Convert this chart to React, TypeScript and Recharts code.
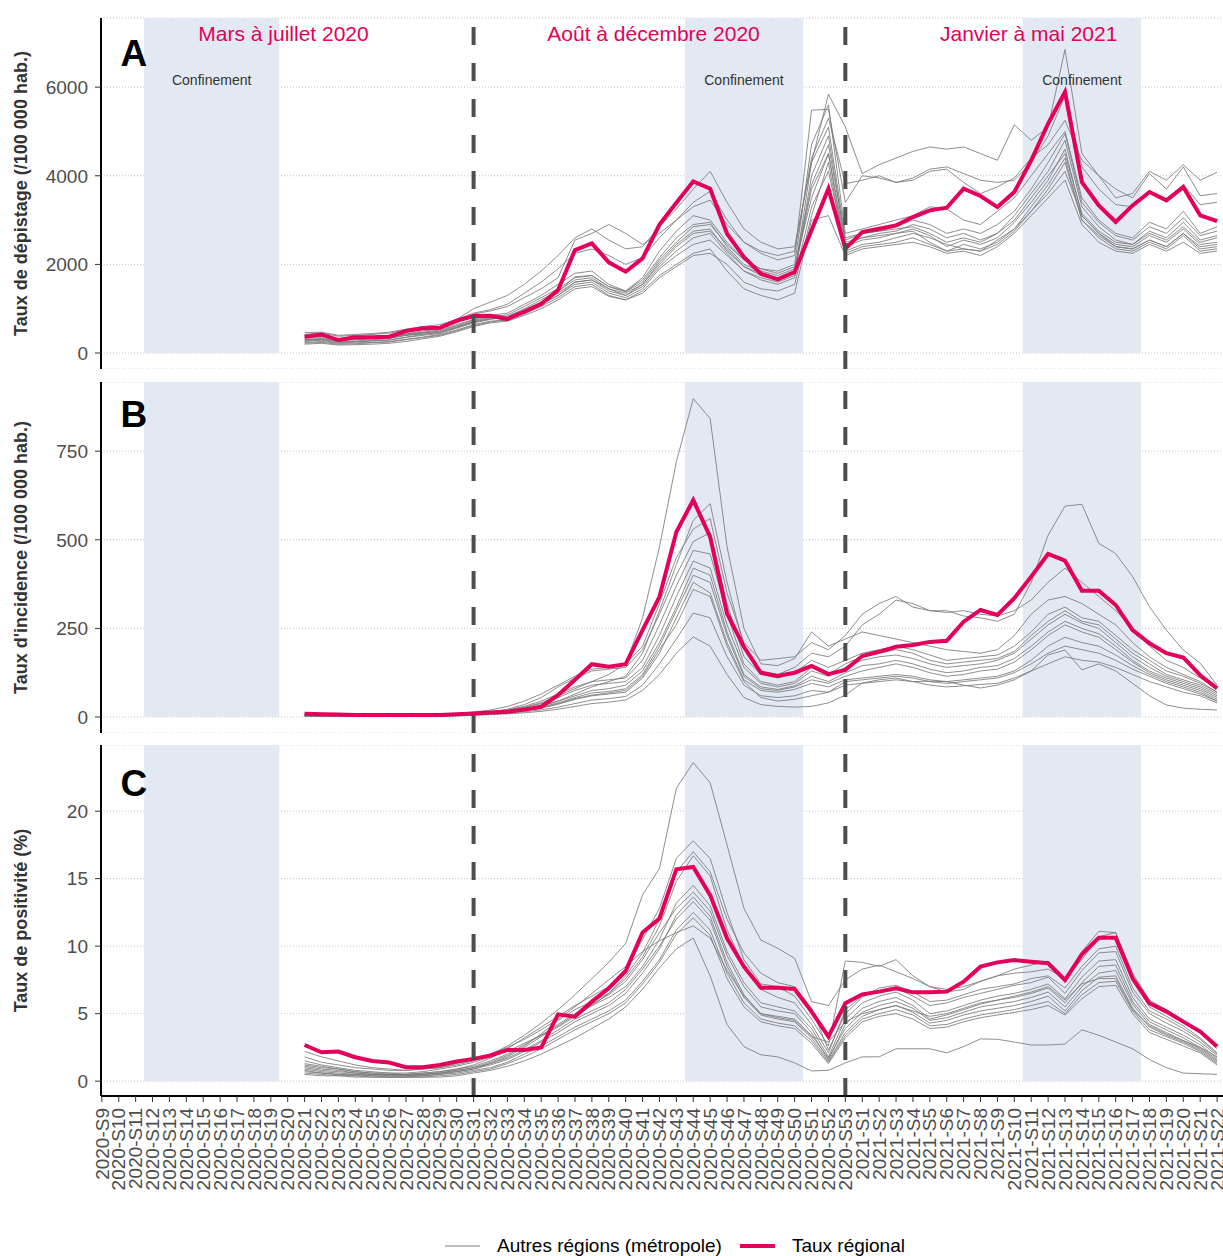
import {
  LineChart,
  Line,
  XAxis,
  YAxis,
  CartesianGrid,
  ReferenceArea,
  ReferenceLine,
  ReferenceDot,
} from "recharts";

const RED = "#e4005a";
const GREY = "#7a7a7a";
const SHADE = "#e3e9f2";
const FONT = "'Liberation Sans', Arial, Helvetica, sans-serif";

// ── Week labels (x axis) ─────────────────────────────────────────────────────
const semaines = [
  "2020-S9", "2020-S10", "2020-S11", "2020-S12", "2020-S13", "2020-S14", "2020-S15", "2020-S16",
  "2020-S17", "2020-S18", "2020-S19", "2020-S20", "2020-S21", "2020-S22", "2020-S23", "2020-S24",
  "2020-S25", "2020-S26", "2020-S27", "2020-S28", "2020-S29", "2020-S30", "2020-S31", "2020-S32",
  "2020-S33", "2020-S34", "2020-S35", "2020-S36", "2020-S37", "2020-S38", "2020-S39", "2020-S40",
  "2020-S41", "2020-S42", "2020-S43", "2020-S44", "2020-S45", "2020-S46", "2020-S47", "2020-S48",
  "2020-S49", "2020-S50", "2020-S51", "2020-S52", "2020-S53",
  "2021-S1", "2021-S2", "2021-S3", "2021-S4", "2021-S5", "2021-S6", "2021-S7", "2021-S8",
  "2021-S9", "2021-S10", "2021-S11", "2021-S12", "2021-S13", "2021-S14", "2021-S15", "2021-S16",
  "2021-S17", "2021-S18", "2021-S19", "2021-S20", "2021-S21", "2021-S22",
];
// data starts at 2020-S21
const premiereSemaine = semaines.indexOf("2020-S21");

// lockdown periods, as [first week, last week]
const confinements = [
  ["2020-S12", "2020-S19"],
  ["2020-S44", "2020-S50"],
  ["2021-S11", "2021-S17"],
];
const coupures = ["2020-S31", "2020-S53"];
const periodes = [
  { texte: "Mars à juillet 2020", x: 10.75 },
  { texte: "Août à décembre 2020", x: 32.65 },
  { texte: "Janvier à mai 2021", x: 54.85 },
];

// ── A : taux de dépistage ────────────────────────────────────────────────────
const depistageRegion = [
  368, 420, 293, 354, 354, 368, 496, 557, 570, 729, 835,
  842, 767, 932, 1105, 1421, 2324, 2474, 2046, 1835, 2136, 2900, 3390,
  3874, 3708, 2692, 2166, 1790, 1662, 1828, 2768, 3708, 2354,
  2730, 2805, 2880, 3069, 3219, 3279, 3708, 3543, 3294, 3633,
  4348, 5174, 5889, 3858, 3332, 2956, 3332, 3633, 3445, 3745, 3107, 2978,
];
const depistageAutres = [
  [420, 450, 380, 400, 420, 450, 520, 560, 600, 760, 1000, 1150, 1300, 1550, 1850, 2200, 2600, 2800, 2550, 2350, 2400, 2850, 3250, 3700, 4100, 3400, 2800, 2500, 2350, 2400, 4300, 5840, 5100, 4050, 4250, 4400, 4550, 4650, 4600, 4650, 4500, 4350, 5150, 4800, 5100, 6850, 4500, 4000, 3500, 3600, 4100, 3900, 4250, 3900, 4080],
  [300, 330, 270, 320, 340, 360, 430, 500, 540, 680, 880, 950, 1050, 1250, 1450, 1700, 2550, 2700, 2900, 2700, 2450, 2700, 3000, 3300, 3450, 2900, 2500, 2250, 2100, 2200, 5480, 5500, 3400, 4000, 3950, 3850, 3900, 4100, 4150, 3850, 3600, 3750, 3950, 4400, 4700, 5250, 4350, 4000, 3700, 3500, 4050, 3700, 4200, 3550, 3600],
  [380, 400, 330, 340, 350, 380, 430, 470, 520, 640, 760, 850, 900, 1100, 1300, 1550, 1800, 1850, 1550, 1400, 1700, 2300, 2750, 3100, 3000, 2500, 2100, 1900, 1850, 2000, 4700, 5600, 2700, 2800, 2900, 3000, 3100, 3300, 3250, 3000, 2900, 3200, 3500, 4000, 4500, 5000, 3500, 3000, 2700, 2600, 2950, 2800, 3200, 2700, 2850],
  [260, 290, 230, 250, 270, 290, 350, 400, 440, 560, 680, 760, 820, 1000, 1200, 1400, 1650, 1700, 1450, 1300, 1550, 2050, 2450, 2750, 2800, 2300, 1950, 1750, 1650, 1800, 4300, 5100, 2600, 2700, 2750, 2800, 2850, 2700, 2500, 2600, 2500, 2700, 3100, 3600, 4100, 4800, 3300, 2850, 2550, 2450, 2750, 2600, 2950, 2550, 2650],
  [300, 310, 250, 260, 280, 300, 360, 420, 470, 580, 700, 780, 800, 950, 1150, 1350, 1600, 1650, 1400, 1300, 1500, 1950, 2300, 2600, 2700, 2250, 1850, 1700, 1600, 1750, 4000, 4900, 2500, 2600, 2650, 2700, 2800, 2650, 2400, 2550, 2450, 2600, 2950, 3400, 3900, 4600, 3100, 2700, 2450, 2400, 2650, 2500, 2800, 2450, 2500],
  [350, 380, 300, 310, 330, 350, 410, 460, 480, 600, 720, 800, 830, 980, 1150, 1380, 1720, 1750, 1500, 1380, 1600, 2100, 2500, 2850, 2900, 2450, 2100, 1900, 1800, 1950, 3500, 4500, 2300, 2450, 2500, 2600, 2700, 2600, 2450, 2350, 2300, 2550, 2800, 3200, 3700, 4300, 3000, 2650, 2400, 2350, 2550, 2400, 2700, 2350, 2400],
  [220, 240, 200, 210, 230, 250, 300, 350, 400, 500, 620, 700, 760, 900, 1100, 1300, 1550, 1600, 1350, 1250, 1450, 1900, 2200, 2450, 2550, 2200, 1850, 1650, 1550, 1700, 3300, 4100, 2400, 2550, 2600, 2700, 2750, 2500, 2300, 2450, 2350, 2500, 2800, 3300, 3800, 4400, 3000, 2600, 2350, 2300, 2500, 2350, 2650, 2300, 2350],
  [280, 300, 260, 270, 300, 330, 400, 450, 500, 620, 740, 820, 860, 1050, 1250, 1450, 1700, 1750, 1500, 1400, 1650, 2150, 2600, 2900, 2950, 2400, 2000, 1850, 1750, 1900, 3800, 4700, 2550, 2700, 2750, 2850, 3000, 2900, 2700, 2800, 2700, 2900, 3200, 3700, 4300, 4950, 3400, 2950, 2650, 2550, 2850, 2700, 3050, 2650, 2750],
  [240, 260, 220, 230, 240, 260, 310, 360, 420, 520, 640, 720, 740, 880, 1050, 1250, 1500, 1550, 1300, 1200, 1400, 1750, 2000, 2250, 2350, 1850, 1450, 1300, 1200, 1350, 3000, 3100, 2200, 2350, 2400, 2450, 2500, 2400, 2250, 2300, 2200, 2400, 2700, 3100, 3500, 3900, 2900, 2500, 2300, 2250, 2450, 2300, 2500, 2250, 2300],
  [330, 350, 290, 300, 320, 340, 400, 430, 460, 580, 700, 770, 800, 940, 1100, 1300, 1600, 1650, 1450, 1350, 1550, 2000, 2400, 2700, 2750, 2350, 1950, 1800, 1700, 1850, 3700, 4500, 2450, 2600, 2700, 2750, 2900, 2800, 2600, 2700, 2550, 2700, 3000, 3500, 4000, 4500, 3150, 2750, 2500, 2450, 2700, 2550, 2850, 2500, 2600],
  [460, 470, 400, 420, 440, 470, 540, 600, 640, 760, 900, 980, 1100, 1350, 1600, 1900, 2250, 2350, 2200, 2000, 2150, 2600, 3000, 3400, 3650, 3000, 2500, 2300, 2200, 2300, 4400, 5300, 3820, 3900, 4000, 3850, 3950, 4150, 4200, 4050, 3900, 3850, 3900, 4300, 4900, 5800, 4200, 3700, 3350, 3300, 3600, 3450, 3800, 3350, 3400],
  [200, 220, 180, 190, 200, 220, 260, 320, 380, 480, 600, 680, 720, 850, 1000, 1200, 1450, 1500, 1280, 1200, 1350, 1700, 1950, 2200, 2250, 2000, 1600, 1450, 1400, 1550, 3100, 4300, 2250, 2400, 2450, 2500, 2600, 2450, 2300, 2350, 2300, 2450, 2750, 3200, 3600, 4100, 3100, 2700, 2400, 2350, 2550, 2400, 2700, 2400, 2450],
];

// ── B : taux d'incidence ─────────────────────────────────────────────────────
const incidenceRegion = [
  9, 8, 7, 6, 6, 6, 6, 6, 6, 8, 10,
  13, 15, 21, 29, 62, 105, 149, 142, 149, 245, 339, 522,
  612, 508, 292, 198, 125, 116, 125, 144, 121, 133,
  172, 184, 198, 203, 212, 215, 269, 302, 288, 335,
  396, 460, 441, 356, 356, 316, 245, 208, 180, 168, 118, 81,
];
const incidenceAutres = [
  [8, 7, 6, 5, 5, 5, 5, 5, 6, 8, 12, 16, 20, 28, 40, 60, 80, 100, 120, 150, 280, 480, 720, 898, 842, 480, 250, 150, 145, 165, 240, 200, 220, 240, 230, 220, 210, 200, 190, 185, 180, 190, 230, 290, 330, 340, 320, 290, 260, 210, 170, 140, 120, 100, 70],
  [6, 5, 5, 4, 4, 4, 4, 4, 5, 6, 9, 12, 16, 22, 30, 45, 65, 85, 100, 115, 180, 300, 430, 555, 602, 380, 200, 130, 120, 140, 180, 170, 200, 260, 290, 330, 320, 300, 300, 285, 280, 270, 290, 380, 513, 595, 600, 490, 461, 396, 311, 245, 189, 152, 90],
  [10, 9, 8, 7, 7, 6, 6, 6, 7, 10, 14, 20, 30, 45, 65, 90, 115, 135, 140, 150, 200, 320, 450, 530, 560, 350, 210, 160, 165, 170, 210, 190, 230, 290, 320, 340, 310, 300, 295, 300, 290, 285, 300, 330, 380, 420, 380, 340, 300, 250, 200, 160, 140, 110, 80],
  [7, 6, 5, 5, 4, 4, 4, 5, 6, 8, 11, 15, 22, 35, 55, 85, 110, 130, 135, 140, 190, 290, 400, 495, 520, 320, 170, 120, 110, 125, 160, 140, 160, 180, 190, 200, 190, 175, 160, 165, 170, 175, 200, 240, 290, 310, 280, 270, 230, 190, 160, 130, 115, 95, 70],
  [5, 5, 4, 4, 3, 3, 3, 4, 5, 7, 10, 14, 20, 30, 45, 65, 85, 100, 105, 110, 160, 260, 370, 470, 460, 290, 150, 100, 90, 100, 140, 120, 150, 170, 180, 190, 180, 160, 150, 155, 160, 165, 185, 230, 270, 300, 270, 260, 220, 180, 150, 120, 105, 90, 65],
  [6, 5, 5, 4, 4, 4, 4, 4, 5, 7, 10, 13, 18, 26, 38, 55, 75, 90, 95, 100, 140, 230, 340, 440, 420, 260, 140, 95, 85, 95, 130, 115, 140, 160, 170, 175, 165, 150, 140, 145, 150, 160, 180, 220, 260, 290, 265, 250, 210, 170, 140, 115, 100, 85, 60],
  [4, 4, 3, 3, 3, 3, 3, 3, 4, 6, 9, 12, 16, 22, 32, 45, 60, 75, 80, 90, 130, 210, 310, 420, 400, 240, 120, 85, 78, 88, 115, 100, 125, 145, 150, 160, 150, 135, 125, 130, 140, 145, 165, 200, 240, 270, 250, 235, 200, 160, 130, 110, 95, 80, 55],
  [5, 4, 4, 3, 3, 3, 3, 3, 4, 5, 8, 11, 15, 20, 28, 40, 55, 68, 72, 80, 120, 200, 300, 400, 380, 230, 115, 80, 75, 85, 105, 95, 115, 130, 140, 150, 140, 125, 115, 120, 130, 135, 155, 190, 230, 260, 240, 225, 190, 155, 125, 105, 90, 75, 50],
  [3, 3, 3, 2, 2, 2, 2, 3, 3, 5, 7, 10, 13, 18, 25, 36, 50, 60, 65, 70, 110, 180, 280, 380, 350, 210, 105, 75, 70, 78, 95, 85, 105, 110, 115, 120, 115, 105, 100, 105, 110, 115, 130, 160, 200, 225, 210, 200, 175, 145, 120, 100, 85, 70, 45],
  [4, 4, 3, 3, 3, 3, 3, 3, 4, 6, 8, 11, 14, 19, 26, 38, 52, 62, 68, 75, 115, 190, 260, 360, 340, 200, 100, 55, 45, 50, 60, 70, 100, 105, 110, 115, 110, 100, 95, 100, 105, 110, 125, 150, 180, 200, 190, 180, 160, 135, 115, 95, 80, 65, 45],
  [3, 3, 2, 2, 2, 2, 2, 2, 3, 4, 6, 8, 11, 15, 20, 28, 38, 48, 52, 58, 90, 150, 220, 293, 280, 170, 90, 60, 55, 60, 75, 70, 90, 95, 100, 105, 100, 90, 85, 88, 92, 95, 110, 130, 150, 170, 160, 155, 140, 120, 100, 85, 70, 60, 40],
  [2, 2, 2, 2, 2, 2, 2, 2, 2, 3, 5, 7, 9, 12, 16, 22, 30, 38, 42, 48, 75, 120, 180, 226, 200, 120, 55, 35, 30, 28, 30, 40, 62, 96, 105, 110, 100, 101, 100, 90, 82, 90, 105, 130, 175, 189, 133, 150, 130, 95, 60, 34, 25, 22, 20],
];

// ── C : taux de positivité ───────────────────────────────────────────────────
const positiviteRegion = [
  2.68, 2.14, 2.19, 1.77, 1.5, 1.38, 1.03, 1.03, 1.2, 1.45, 1.65,
  1.9, 2.31, 2.31, 2.49, 4.95, 4.78, 5.89, 6.88, 8.16, 11.02, 12.05, 15.7,
  15.87, 13.78, 10.58, 8.48, 6.92, 6.92, 6.83, 5.15, 3.3, 5.77,
  6.43, 6.63, 6.88, 6.58, 6.58, 6.63, 7.37, 8.48, 8.8, 8.97,
  8.85, 8.73, 7.49, 9.39, 10.62, 10.62, 7.62, 5.77, 5.15, 4.41, 3.67, 2.56,
];
const positiviteAutres = [
  [1.8, 1.4, 1.2, 1.0, 0.9, 0.8, 0.8, 0.9, 1.0, 1.2, 1.5, 2.0, 2.6, 3.4, 4.3, 5.3, 6.4, 7.6, 8.8, 10.2, 13.8, 15.75, 21.7, 23.6, 22.1, 17.5, 12.8, 10.45, 9.84, 9.1, 5.89, 5.6, 7.5, 8.3, 8.6, 8.1, 7.6, 7.0, 6.6, 6.8, 7.4, 7.8, 8.0, 8.1, 8.3, 7.6, 9.6, 11.1, 11.0, 8.0, 6.0, 5.3, 4.5, 3.6, 2.4],
  [1.2, 1.0, 0.9, 0.7, 0.6, 0.6, 0.5, 0.6, 0.7, 0.9, 1.2, 1.7, 2.4, 3.2, 4.0, 4.8, 5.6, 6.3, 7.0, 8.2, 10.5, 12.8, 16.5, 17.8, 16.5, 12.5, 9.0, 7.2, 7.0, 6.3, 4.6, 2.6, 8.9, 8.8, 8.5, 9.0, 7.8, 7.0, 6.8, 7.0, 7.4, 7.8, 8.3, 8.6, 8.9, 7.6, 9.0, 10.7, 11.0, 7.4, 5.5, 4.8, 4.1, 3.2, 2.1],
  [1.5, 1.2, 1.0, 0.8, 0.7, 0.6, 0.6, 0.7, 0.9, 1.1, 1.4, 1.8, 2.2, 2.8, 3.4, 4.0, 4.8, 5.6, 6.5, 7.8, 9.5, 12.0, 15.5, 17.0, 15.5, 12.0, 9.5, 8.0, 7.3, 7.0, 5.4, 2.3, 5.0, 6.2, 6.9, 7.1, 6.6, 5.9, 6.0, 6.4, 6.8, 7.0, 7.2, 7.6, 7.8, 6.9, 8.5, 9.8, 10.0, 6.9, 5.2, 4.6, 3.9, 3.1, 2.0],
  [1.0, 0.8, 0.7, 0.6, 0.5, 0.5, 0.5, 0.5, 0.6, 0.8, 1.0, 1.4, 1.9, 2.6, 3.5, 4.5, 5.3, 5.9, 6.5, 7.6, 9.2, 11.5, 14.8, 16.7, 15.2, 11.2, 8.5, 6.8, 6.2, 5.8, 4.2, 2.1, 5.3, 6.3, 6.6, 6.9, 6.3, 5.6, 5.8, 6.2, 6.5, 6.8, 7.1, 7.3, 7.7, 6.5, 8.2, 9.5, 9.6, 6.6, 5.0, 4.3, 3.7, 2.9, 1.9],
  [0.9, 0.7, 0.6, 0.5, 0.5, 0.4, 0.4, 0.5, 0.6, 0.7, 0.9, 1.3, 1.8, 2.5, 3.3, 4.1, 4.9, 5.6, 6.2, 7.0, 8.5, 10.5, 13.2, 14.5, 13.0, 9.6, 7.3, 5.8, 5.5, 5.2, 3.9, 1.8, 4.6, 5.8, 6.3, 6.6, 6.0, 5.0, 5.2, 5.6, 6.0, 6.3, 6.5, 6.8, 7.2, 6.1, 7.7, 8.9, 9.0, 6.2, 4.6, 4.0, 3.4, 2.7, 1.7],
  [1.3, 1.1, 0.9, 0.7, 0.6, 0.5, 0.5, 0.6, 0.7, 0.9, 1.1, 1.5, 2.0, 2.7, 3.4, 4.2, 5.0, 5.7, 6.4, 7.4, 9.0, 11.0, 12.8, 14.0, 12.6, 9.3, 7.0, 5.5, 5.2, 5.0, 3.6, 1.6, 4.2, 5.4, 5.9, 6.2, 5.6, 4.6, 4.9, 5.3, 5.7, 6.0, 6.2, 6.5, 6.9, 5.8, 7.3, 8.5, 8.6, 5.9, 4.4, 3.8, 3.2, 2.5, 1.6],
  [0.8, 0.6, 0.5, 0.5, 0.4, 0.4, 0.4, 0.4, 0.5, 0.7, 0.9, 1.2, 1.6, 2.2, 2.9, 3.6, 4.4, 5.0, 5.6, 6.5, 8.0, 9.8, 12.3, 13.65, 12.2, 8.8, 6.4, 5.0, 4.8, 4.6, 3.4, 1.7, 3.9, 5.1, 5.6, 5.9, 5.4, 4.5, 4.7, 5.1, 5.5, 5.7, 5.9, 6.2, 6.6, 5.5, 7.0, 8.0, 8.2, 5.7, 4.2, 3.6, 3.0, 2.4, 1.5],
  [1.1, 0.9, 0.8, 0.6, 0.5, 0.5, 0.4, 0.5, 0.6, 0.8, 1.0, 1.3, 1.7, 2.3, 3.0, 3.8, 4.6, 5.2, 5.8, 6.8, 8.3, 10.0, 12.0, 13.3, 11.9, 8.5, 6.2, 4.9, 4.6, 4.4, 3.2, 1.5, 3.6, 4.8, 5.3, 5.6, 5.1, 4.3, 4.5, 4.9, 5.2, 5.4, 5.6, 5.9, 6.3, 5.2, 6.7, 7.7, 7.8, 5.4, 4.0, 3.4, 2.9, 2.3, 1.4],
  [0.7, 0.6, 0.5, 0.4, 0.4, 0.3, 0.3, 0.4, 0.5, 0.6, 0.8, 1.0, 1.4, 2.0, 2.6, 3.3, 4.0, 4.6, 5.2, 6.0, 7.4, 9.0, 11.2, 12.5, 11.2, 8.0, 5.8, 4.6, 4.3, 4.1, 3.0, 1.4, 3.4, 4.6, 5.0, 5.3, 4.9, 4.1, 4.2, 4.6, 4.9, 5.1, 5.3, 5.6, 5.9, 5.0, 6.4, 7.3, 7.4, 5.2, 3.8, 3.3, 2.8, 2.2, 1.3],
  [0.6, 0.5, 0.4, 0.4, 0.3, 0.3, 0.3, 0.3, 0.4, 0.5, 0.7, 0.9, 1.3, 1.8, 2.4, 3.1, 3.8, 4.4, 5.0, 5.8, 7.2, 8.8, 10.9, 12.1, 10.8, 7.6, 5.5, 4.4, 4.1, 3.9, 2.8, 1.3, 3.2, 4.4, 4.8, 5.0, 4.6, 3.9, 4.0, 4.4, 4.7, 4.9, 5.1, 5.3, 5.6, 4.9, 6.1, 7.0, 7.1, 5.0, 3.6, 3.1, 2.6, 2.1, 1.2],
  [0.5, 0.4, 0.4, 0.3, 0.3, 0.3, 0.3, 0.3, 0.3, 0.4, 0.6, 0.8, 1.1, 1.5, 2.0, 2.6, 3.2, 3.9, 4.6, 5.5, 6.8, 8.4, 9.8, 10.6, 7.8, 4.2, 2.56, 1.95, 1.8, 1.35, 0.76, 0.8, 1.35, 1.8, 1.8, 2.4, 2.4, 2.4, 2.1, 2.56, 3.13, 3.1, 2.9, 2.68, 2.68, 2.75, 3.8, 3.4, 2.9, 2.4, 1.6, 1.0, 0.6, 0.55, 0.5],
  [2.2, 1.8, 1.5, 1.2, 1.0, 0.9, 0.8, 0.9, 1.0, 1.3, 1.6, 2.0, 2.5, 3.1, 3.8, 4.6, 5.5, 6.5, 7.5, 8.5, 9.6, 10.4, 11.0, 11.5, 10.6, 8.2, 6.3, 5.0, 4.7, 4.5, 3.3, 2.9, 4.4, 5.0, 5.3, 5.6, 5.2, 4.8, 5.0, 5.4, 5.8, 6.0, 6.3, 6.6, 7.0, 6.0, 7.2, 7.6, 7.6, 5.3, 4.1, 3.5, 3.0, 2.5, 1.8],
];

// ── helpers ──────────────────────────────────────────────────────────────────
const semaineIdx = (s: string) => semaines.indexOf(s);
const xDomain: [number, number] = [-0.05, 66.35];
const xTicks = semaines.map((_, i) => i);

function buildRows(region: number[], autres: number[][]) {
  return region.map((v, i) => {
    const row: Record<string, number> = { x: premiereSemaine + i, region: v };
    autres.forEach((serie, k) => {
      row["r" + k] = serie[i];
    });
    return row;
  });
}

function AxisTitle({ viewBox, text }: any) {
  const cx = 26.5;
  const cy = viewBox.y + viewBox.height / 2;
  return (
    <text
      x={cx}
      y={cy}
      transform={`rotate(-90 ${cx} ${cy})`}
      textAnchor="middle"
      fontFamily={FONT}
      fontSize={18}
      fontWeight={700}
      fill="#333333"
    >
      {text}
    </text>
  );
}

function TickSemaine({ x, y, payload }: any) {
  return (
    <text
      transform={`translate(${x},${y}) rotate(-90)`}
      textAnchor="end"
      dy="0.35em"
      fontFamily={FONT}
      fontSize={19}
      fill="#4d4d4d"
    >
      {semaines[payload.value]}
    </text>
  );
}

type PanelProps = {
  rows: Record<string, number>[];
  nAutres: number;
  domain: [number, number];
  ticks: number[];
  titre: string;
  lettre: string;
  lettreY: number;
  height: number;
  marginTop: number;
  avecAxeX?: boolean;
  annotations?: { confY: number; periodeY: number };
};

function Panel({
  rows,
  nAutres,
  domain,
  ticks,
  titre,
  lettre,
  lettreY,
  height,
  marginTop,
  avecAxeX,
  annotations,
}: PanelProps) {
  return (
    <LineChart
      width={1223}
      height={height}
      data={rows}
      margin={{ top: marginTop, right: 0, bottom: 0, left: 0 }}
    >
      <CartesianGrid
        vertical={false}
        stroke="#c4c4c4"
        strokeDasharray="1 2"
      />
      {confinements.map(([a, b]) => (
        <ReferenceArea
          key={a}
          x1={semaineIdx(a) - 0.5}
          x2={semaineIdx(b) + 0.5}
          y1={0}
          y2={domain[1]}
          fill={SHADE}
          fillOpacity={1}
          stroke="none"
        />
      ))}
      {avecAxeX ? (
        <XAxis
          type="number"
          dataKey="x"
          domain={xDomain}
          ticks={xTicks}
          interval={0}
          allowDataOverflow
          height={105}
          tickSize={6}
          tickMargin={6}
          axisLine={{ stroke: "#000", strokeWidth: 2 }}
          tickLine={{ stroke: "#333" }}
          tick={<TickSemaine />}
        />
      ) : (
        <XAxis type="number" dataKey="x" domain={xDomain} allowDataOverflow hide />
      )}
      <YAxis
        type="number"
        domain={domain}
        ticks={ticks}
        allowDataOverflow
        width={101}
        tickSize={6}
        tickMargin={7}
        axisLine={{ stroke: "#000", strokeWidth: 2 }}
        tickLine={{ stroke: "#333" }}
        tick={{ fill: "#4d4d4d", fontSize: 19, fontFamily: FONT }}
        label={<AxisTitle text={titre} />}
      />
      {Array.from({ length: nAutres }, (_, k) => (
        <Line
          key={k}
          type="linear"
          dataKey={"r" + k}
          stroke={GREY}
          strokeWidth={1}
          strokeOpacity={0.85}
          dot={false}
          isAnimationActive={false}
        />
      ))}
      <Line
        type="linear"
        dataKey="region"
        stroke={RED}
        strokeWidth={4}
        dot={false}
        isAnimationActive={false}
      />
      {coupures.map((s) => (
        <ReferenceLine
          key={s}
          x={semaineIdx(s)}
          stroke="#4d4d4d"
          strokeWidth={4}
          strokeDasharray="18 18"
        />
      ))}
      <ReferenceDot
        x={1.9}
        y={lettreY}
        r={0}
        fill="none"
        stroke="none"
        label={{ value: lettre, fontSize: 37, fontWeight: 700, fill: "#000", fontFamily: FONT }}
      />
      {annotations &&
        confinements.map(([a, b]) => (
          <ReferenceDot
            key={"c" + a}
            x={(semaineIdx(a) + semaineIdx(b)) / 2}
            y={annotations.confY}
            r={0}
            fill="none"
            stroke="none"
            label={{ value: "Confinement", fontSize: 14, fill: "#333", fontFamily: FONT }}
          />
        ))}
      {annotations &&
        periodes.map((p) => (
          <ReferenceDot
            key={p.texte}
            x={p.x}
            y={annotations.periodeY}
            r={0}
            fill="none"
            stroke="none"
            label={{ value: p.texte, fontSize: 21, fill: RED, fontFamily: FONT }}
          />
        ))}
    </LineChart>
  );
}

export default function App() {
  const rowsA = buildRows(depistageRegion, depistageAutres);
  const rowsB = buildRows(incidenceRegion, incidenceAutres);
  const rowsC = buildRows(positiviteRegion, positiviteAutres);

  return (
    <div style={{ position: "relative", width: 1223, height: 1256, background: "#fff", fontFamily: FONT }}>
      <style>{`body{margin:0}`}</style>
      <div style={{ position: "absolute", left: 0, top: 0 }}>
        <Panel
          rows={rowsA}
          nAutres={depistageAutres.length}
          domain={[-360, 7560]}
          ticks={[0, 2000, 4000, 6000]}
          titre="Taux de dépistage (/100 000 hab.)"
          lettre="A"
          lettreY={6770}
          height={369}
          marginTop={18}
          annotations={{ confY: 6160, periodeY: 7220 }}
        />
      </div>
      <div style={{ position: "absolute", left: 0, top: 382 }}>
        <Panel
          rows={rowsB}
          nAutres={incidenceAutres.length}
          domain={[-45, 945]}
          ticks={[0, 250, 500, 750]}
          titre="Taux d'incidence (/100 000 hab.)"
          lettre="B"
          lettreY={854}
          height={351}
          marginTop={0}
        />
      </div>
      <div style={{ position: "absolute", left: 0, top: 745 }}>
        <Panel
          rows={rowsC}
          nAutres={positiviteAutres.length}
          domain={[-1.1, 24.9]}
          ticks={[0, 5, 10, 15, 20]}
          titre="Taux de positivité (%)"
          lettre="C"
          lettreY={22.1}
          height={456}
          marginTop={0}
          avecAxeX
        />
      </div>
      {/* legend */}
      <div
        style={{
          position: "absolute",
          left: 445,
          top: 1234,
          display: "flex",
          alignItems: "center",
          fontSize: 19,
          color: "#000",
          whiteSpace: "nowrap",
        }}
      >
        <svg width={35} height={24}>
          <line x1={0} x2={35} y1={12} y2={12} stroke={GREY} strokeWidth={1} />
        </svg>
        <span style={{ marginLeft: 17 }}>Autres régions (métropole)</span>
        <svg width={35} height={24} style={{ marginLeft: 18 }}>
          <line x1={0} x2={35} y1={12} y2={12} stroke={RED} strokeWidth={4} />
        </svg>
        <span style={{ marginLeft: 17 }}>Taux régional</span>
      </div>
    </div>
  );
}
